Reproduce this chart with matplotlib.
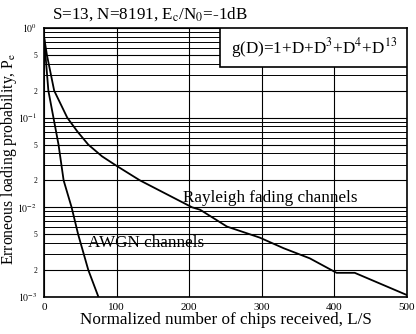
import matplotlib.pyplot as plt
import numpy as np
from matplotlib.ticker import LogLocator, NullFormatter
from matplotlib.patches import Rectangle

plt.rcParams['font.family'] = ['Liberation Serif', 'DejaVu Serif']
plt.rcParams['mathtext.fontset'] = 'stix'

# curvas (L/S, Pe)
awgn_x = [0, 2, 6, 13, 20, 27, 38, 47, 61, 75]
awgn_y = [0.8, 0.5, 0.2, 0.1, 0.05, 0.02, 0.01, 0.005, 0.002, 0.001]

ray_x = [0, 4, 14, 32, 46, 61, 80, 100, 132, 204, 215, 252, 297, 330, 366,
         403, 428, 500]
ray_y = [0.8, 0.5, 0.2, 0.1, 0.07, 0.05, 0.037, 0.029, 0.02, 0.01, 0.0094,
         0.0061, 0.0046, 0.0035, 0.0027, 0.00186, 0.00186, 0.00105]

yticks = [1e-3, 2e-3, 5e-3, 1e-2, 2e-2, 5e-2, 1e-1, 2e-1, 5e-1, 1]
ylabels = [r'$10^{-3}$', '2', '5', r'$10^{-2}$', '2', '5', r'$10^{-1}$', '2', '5', r'$10^{0}$']
xticks = [0, 100, 200, 300, 400, 500]

fig = plt.figure(figsize=(4.16, 3.34), dpi=100)
ax = fig.add_axes([0.1058, 0.1108, 0.8726, 0.8054])

ax.plot(awgn_x, awgn_y, color='black', lw=1.3)
ax.plot(ray_x, ray_y, color='black', lw=1.3)

ax.set_yscale('log')
ax.set_xlim(0, 500)
ax.set_ylim(1e-3, 1)
ax.set_xticks(xticks)
ax.set_xticklabels([str(v) for v in xticks], fontsize=8)
ax.set_yticks(yticks)
ax.set_yticklabels(ylabels)
for lab, t in zip(ax.get_yticklabels(), yticks):
    if t in (1e-3, 1e-2, 1e-1, 1):
        lab.set_fontsize(7)
    else:
        lab.set_fontsize(5.5)
ax.yaxis.set_minor_locator(LogLocator(base=10, subs=np.arange(2, 10)))
ax.yaxis.set_minor_formatter(NullFormatter())
ax.tick_params(which='both', length=0, pad=4)
ax.tick_params(axis='y', pad=5)
ax.grid(True, which='major', color='black', lw=0.8)
ax.grid(True, which='minor', axis='y', color='black', lw=0.7)
for s in ax.spines.values():
    s.set_linewidth(1.2)

ax.set_xlabel('Normalized number of chips received, L/S', fontsize=12.3, labelpad=0)
fig.text(0.022, 0.525, 'Erroneous loading probability, P$_\\mathrm{e}$', fontsize=11.3,
         rotation=90, ha='center', va='center')
fig.text(0.125, 0.945, 'S=13, N=8191, E$_\\mathrm{c}$/N$_\\mathrm{0}$=-1dB', fontsize=12.3)

# caixa do polinomio
ax.add_patch(Rectangle((0.485, 0.855), 0.515, 0.145, transform=ax.transAxes,
                       fc='white', ec='black', lw=1.2, zorder=3))
ax.text(0.743, 0.927, r'g(D)=1+D+D$^3$+D$^4$+D$^{13}$', transform=ax.transAxes,
        fontsize=12.3, ha='center', va='center', zorder=4)

ax.text(0.383, 0.368, 'Rayleigh fading channels', transform=ax.transAxes,
        fontsize=12.3, ha='left', va='center')
ax.text(0.121, 0.2, 'AWGN channels', transform=ax.transAxes,
        fontsize=12.3, ha='left', va='center')

fig.savefig('out.png', dpi=100)
